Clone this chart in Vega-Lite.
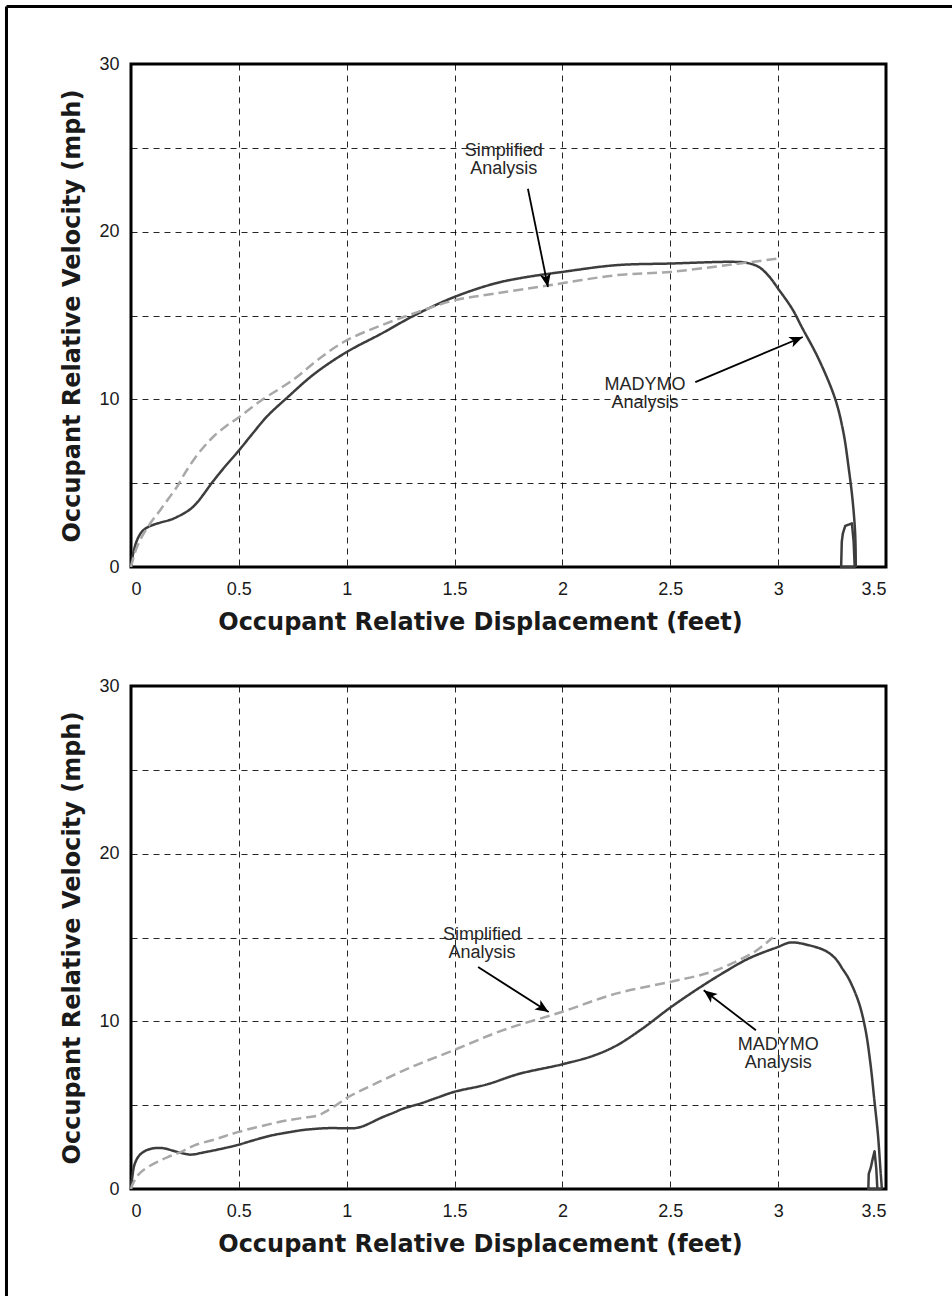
{
  "$schema": "https://vega.github.io/schema/vega-lite/v6.json",
  "padding": {"left": 3, "top": 3, "right": 0, "bottom": 0},
  "background": "white",
  "config": {
    "view": {"stroke": "black", "strokeWidth": 3},
    "axis": {
      "grid": true, "gridColor": "#000000", "gridDash": [6, 5], "gridWidth": 1, "gridOpacity": 0.85,
      "domain": false, "ticks": false,
      "labelFont": "Liberation Sans", "labelFontSize": 18, "labelColor": "#1a1a1a",
      "titleFont": "DejaVu Sans", "titleFontWeight": "bold", "titleFontSize": 24, "titleColor": "#1a1a1a"
    }
  },
  "datasets": {
    "frame": [{"edge": "left"}],
    "curves": [
      {"panel": "top", "series": "MADYMO", "i": 1, "x": 0, "y": 0},
      {"panel": "top", "series": "MADYMO", "i": 2, "x": 0.01, "y": 0.8},
      {"panel": "top", "series": "MADYMO", "i": 3, "x": 0.028, "y": 1.6},
      {"panel": "top", "series": "MADYMO", "i": 4, "x": 0.05, "y": 2.1},
      {"panel": "top", "series": "MADYMO", "i": 5, "x": 0.074, "y": 2.35},
      {"panel": "top", "series": "MADYMO", "i": 6, "x": 0.1, "y": 2.5},
      {"panel": "top", "series": "MADYMO", "i": 7, "x": 0.136, "y": 2.65},
      {"panel": "top", "series": "MADYMO", "i": 8, "x": 0.19, "y": 2.85},
      {"panel": "top", "series": "MADYMO", "i": 9, "x": 0.245, "y": 3.2},
      {"panel": "top", "series": "MADYMO", "i": 10, "x": 0.28, "y": 3.5},
      {"panel": "top", "series": "MADYMO", "i": 11, "x": 0.307, "y": 3.85},
      {"panel": "top", "series": "MADYMO", "i": 12, "x": 0.34, "y": 4.4},
      {"panel": "top", "series": "MADYMO", "i": 13, "x": 0.368, "y": 4.9},
      {"panel": "top", "series": "MADYMO", "i": 14, "x": 0.43, "y": 5.9},
      {"panel": "top", "series": "MADYMO", "i": 15, "x": 0.497, "y": 6.9},
      {"panel": "top", "series": "MADYMO", "i": 16, "x": 0.56, "y": 7.9},
      {"panel": "top", "series": "MADYMO", "i": 17, "x": 0.632, "y": 9.0},
      {"panel": "top", "series": "MADYMO", "i": 18, "x": 0.724, "y": 10.1},
      {"panel": "top", "series": "MADYMO", "i": 19, "x": 0.848, "y": 11.5},
      {"panel": "top", "series": "MADYMO", "i": 20, "x": 0.997, "y": 12.8},
      {"panel": "top", "series": "MADYMO", "i": 21, "x": 1.158, "y": 13.9},
      {"panel": "top", "series": "MADYMO", "i": 22, "x": 1.313, "y": 15.0},
      {"panel": "top", "series": "MADYMO", "i": 23, "x": 1.498, "y": 16.1},
      {"panel": "top", "series": "MADYMO", "i": 24, "x": 1.684, "y": 16.9},
      {"panel": "top", "series": "MADYMO", "i": 25, "x": 1.814, "y": 17.25},
      {"panel": "top", "series": "MADYMO", "i": 26, "x": 2.0, "y": 17.6},
      {"panel": "top", "series": "MADYMO", "i": 27, "x": 2.248, "y": 18.0},
      {"panel": "top", "series": "MADYMO", "i": 28, "x": 2.5, "y": 18.1},
      {"panel": "top", "series": "MADYMO", "i": 29, "x": 2.79, "y": 18.2},
      {"panel": "top", "series": "MADYMO", "i": 30, "x": 2.85, "y": 18.15},
      {"panel": "top", "series": "MADYMO", "i": 31, "x": 2.91, "y": 17.9},
      {"panel": "top", "series": "MADYMO", "i": 32, "x": 2.96, "y": 17.3},
      {"panel": "top", "series": "MADYMO", "i": 33, "x": 3.0, "y": 16.6},
      {"panel": "top", "series": "MADYMO", "i": 34, "x": 3.065, "y": 15.4},
      {"panel": "top", "series": "MADYMO", "i": 35, "x": 3.11, "y": 14.3},
      {"panel": "top", "series": "MADYMO", "i": 36, "x": 3.188, "y": 12.4},
      {"panel": "top", "series": "MADYMO", "i": 37, "x": 3.265, "y": 10.0},
      {"panel": "top", "series": "MADYMO", "i": 38, "x": 3.303, "y": 8.0},
      {"panel": "top", "series": "MADYMO", "i": 39, "x": 3.326, "y": 6.0},
      {"panel": "top", "series": "MADYMO", "i": 40, "x": 3.345, "y": 4.0},
      {"panel": "top", "series": "MADYMO", "i": 41, "x": 3.357, "y": 2.0},
      {"panel": "top", "series": "MADYMO", "i": 42, "x": 3.36, "y": 0.0},
      {"panel": "top", "series": "MADYMO tail", "i": 1, "x": 3.36, "y": 0.0},
      {"panel": "top", "series": "MADYMO tail", "i": 2, "x": 3.292, "y": 0.0},
      {"panel": "top", "series": "MADYMO tail", "i": 3, "x": 3.295, "y": 1.5},
      {"panel": "top", "series": "MADYMO tail", "i": 4, "x": 3.3, "y": 2.0},
      {"panel": "top", "series": "MADYMO tail", "i": 5, "x": 3.311, "y": 2.45},
      {"panel": "top", "series": "MADYMO tail", "i": 6, "x": 3.342, "y": 2.6},
      {"panel": "top", "series": "MADYMO tail", "i": 7, "x": 3.35, "y": 1.5},
      {"panel": "top", "series": "MADYMO tail", "i": 8, "x": 3.355, "y": 0.0},
      {"panel": "top", "series": "Simplified", "i": 1, "x": 0, "y": 0},
      {"panel": "top", "series": "Simplified", "i": 2, "x": 0.01, "y": 0.5},
      {"panel": "top", "series": "Simplified", "i": 3, "x": 0.028, "y": 1.2},
      {"panel": "top", "series": "Simplified", "i": 4, "x": 0.05, "y": 1.8},
      {"panel": "top", "series": "Simplified", "i": 5, "x": 0.074, "y": 2.3},
      {"panel": "top", "series": "Simplified", "i": 6, "x": 0.1, "y": 2.8},
      {"panel": "top", "series": "Simplified", "i": 7, "x": 0.136, "y": 3.4},
      {"panel": "top", "series": "Simplified", "i": 8, "x": 0.175, "y": 4.1},
      {"panel": "top", "series": "Simplified", "i": 9, "x": 0.214, "y": 4.8},
      {"panel": "top", "series": "Simplified", "i": 10, "x": 0.25, "y": 5.6},
      {"panel": "top", "series": "Simplified", "i": 11, "x": 0.291, "y": 6.4},
      {"panel": "top", "series": "Simplified", "i": 12, "x": 0.34, "y": 7.2},
      {"panel": "top", "series": "Simplified", "i": 13, "x": 0.384, "y": 7.8},
      {"panel": "top", "series": "Simplified", "i": 14, "x": 0.44, "y": 8.4},
      {"panel": "top", "series": "Simplified", "i": 15, "x": 0.497, "y": 8.9},
      {"panel": "top", "series": "Simplified", "i": 16, "x": 0.6, "y": 9.9},
      {"panel": "top", "series": "Simplified", "i": 17, "x": 0.755, "y": 11.2},
      {"panel": "top", "series": "Simplified", "i": 18, "x": 0.88, "y": 12.5},
      {"panel": "top", "series": "Simplified", "i": 19, "x": 0.997, "y": 13.5},
      {"panel": "top", "series": "Simplified", "i": 20, "x": 1.158, "y": 14.4},
      {"panel": "top", "series": "Simplified", "i": 21, "x": 1.328, "y": 15.2},
      {"panel": "top", "series": "Simplified", "i": 22, "x": 1.498, "y": 15.9},
      {"panel": "top", "series": "Simplified", "i": 23, "x": 1.684, "y": 16.3},
      {"panel": "top", "series": "Simplified", "i": 24, "x": 1.938, "y": 16.8},
      {"panel": "top", "series": "Simplified", "i": 25, "x": 2.248, "y": 17.4},
      {"panel": "top", "series": "Simplified", "i": 26, "x": 2.5, "y": 17.6},
      {"panel": "top", "series": "Simplified", "i": 27, "x": 2.79, "y": 18.05},
      {"panel": "top", "series": "Simplified", "i": 28, "x": 3.0, "y": 18.4},
      {"panel": "bottom", "series": "MADYMO", "i": 1, "x": 0, "y": 0},
      {"panel": "bottom", "series": "MADYMO", "i": 2, "x": 0.005, "y": 0.6},
      {"panel": "bottom", "series": "MADYMO", "i": 3, "x": 0.015, "y": 1.4},
      {"panel": "bottom", "series": "MADYMO", "i": 4, "x": 0.03, "y": 1.85},
      {"panel": "bottom", "series": "MADYMO", "i": 5, "x": 0.046, "y": 2.1},
      {"panel": "bottom", "series": "MADYMO", "i": 6, "x": 0.07, "y": 2.3},
      {"panel": "bottom", "series": "MADYMO", "i": 7, "x": 0.093, "y": 2.4},
      {"panel": "bottom", "series": "MADYMO", "i": 8, "x": 0.125, "y": 2.45},
      {"panel": "bottom", "series": "MADYMO", "i": 9, "x": 0.155, "y": 2.42},
      {"panel": "bottom", "series": "MADYMO", "i": 10, "x": 0.19, "y": 2.3},
      {"panel": "bottom", "series": "MADYMO", "i": 11, "x": 0.217, "y": 2.2},
      {"panel": "bottom", "series": "MADYMO", "i": 12, "x": 0.25, "y": 2.1},
      {"panel": "bottom", "series": "MADYMO", "i": 13, "x": 0.279, "y": 2.05},
      {"panel": "bottom", "series": "MADYMO", "i": 14, "x": 0.34, "y": 2.19},
      {"panel": "bottom", "series": "MADYMO", "i": 15, "x": 0.42, "y": 2.4},
      {"panel": "bottom", "series": "MADYMO", "i": 16, "x": 0.495, "y": 2.63},
      {"panel": "bottom", "series": "MADYMO", "i": 17, "x": 0.58, "y": 2.95},
      {"panel": "bottom", "series": "MADYMO", "i": 18, "x": 0.65, "y": 3.19},
      {"panel": "bottom", "series": "MADYMO", "i": 19, "x": 0.73, "y": 3.38},
      {"panel": "bottom", "series": "MADYMO", "i": 20, "x": 0.805, "y": 3.53},
      {"panel": "bottom", "series": "MADYMO", "i": 21, "x": 0.913, "y": 3.63},
      {"panel": "bottom", "series": "MADYMO", "i": 22, "x": 1.037, "y": 3.63},
      {"panel": "bottom", "series": "MADYMO", "i": 23, "x": 1.07, "y": 3.72},
      {"panel": "bottom", "series": "MADYMO", "i": 24, "x": 1.1, "y": 3.88},
      {"panel": "bottom", "series": "MADYMO", "i": 25, "x": 1.16, "y": 4.25},
      {"panel": "bottom", "series": "MADYMO", "i": 26, "x": 1.223, "y": 4.58},
      {"panel": "bottom", "series": "MADYMO", "i": 27, "x": 1.259, "y": 4.78},
      {"panel": "bottom", "series": "MADYMO", "i": 28, "x": 1.347, "y": 5.12},
      {"panel": "bottom", "series": "MADYMO", "i": 29, "x": 1.42, "y": 5.45},
      {"panel": "bottom", "series": "MADYMO", "i": 30, "x": 1.5, "y": 5.8},
      {"panel": "bottom", "series": "MADYMO", "i": 31, "x": 1.645, "y": 6.22},
      {"panel": "bottom", "series": "MADYMO", "i": 32, "x": 1.8, "y": 6.87},
      {"panel": "bottom", "series": "MADYMO", "i": 33, "x": 1.997, "y": 7.43},
      {"panel": "bottom", "series": "MADYMO", "i": 34, "x": 2.139, "y": 7.93},
      {"panel": "bottom", "series": "MADYMO", "i": 35, "x": 2.247, "y": 8.53},
      {"panel": "bottom", "series": "MADYMO", "i": 36, "x": 2.37, "y": 9.56},
      {"panel": "bottom", "series": "MADYMO", "i": 37, "x": 2.498, "y": 10.8},
      {"panel": "bottom", "series": "MADYMO", "i": 38, "x": 2.617, "y": 11.85},
      {"panel": "bottom", "series": "MADYMO", "i": 39, "x": 2.74, "y": 12.85},
      {"panel": "bottom", "series": "MADYMO", "i": 40, "x": 2.864, "y": 13.75},
      {"panel": "bottom", "series": "MADYMO", "i": 41, "x": 3.0, "y": 14.44},
      {"panel": "bottom", "series": "MADYMO", "i": 42, "x": 3.057, "y": 14.7},
      {"panel": "bottom", "series": "MADYMO", "i": 43, "x": 3.142, "y": 14.54},
      {"panel": "bottom", "series": "MADYMO", "i": 44, "x": 3.22, "y": 14.2},
      {"panel": "bottom", "series": "MADYMO", "i": 45, "x": 3.265, "y": 13.75},
      {"panel": "bottom", "series": "MADYMO", "i": 46, "x": 3.3, "y": 13.1},
      {"panel": "bottom", "series": "MADYMO", "i": 47, "x": 3.327, "y": 12.55},
      {"panel": "bottom", "series": "MADYMO", "i": 48, "x": 3.373, "y": 11.16},
      {"panel": "bottom", "series": "MADYMO", "i": 49, "x": 3.404, "y": 9.56},
      {"panel": "bottom", "series": "MADYMO", "i": 50, "x": 3.427, "y": 7.57},
      {"panel": "bottom", "series": "MADYMO", "i": 51, "x": 3.447, "y": 5.18},
      {"panel": "bottom", "series": "MADYMO", "i": 52, "x": 3.463, "y": 3.19},
      {"panel": "bottom", "series": "MADYMO", "i": 53, "x": 3.474, "y": 1.2},
      {"panel": "bottom", "series": "MADYMO", "i": 54, "x": 3.481, "y": 0.0},
      {"panel": "bottom", "series": "MADYMO tail", "i": 1, "x": 3.481, "y": 0.0},
      {"panel": "bottom", "series": "MADYMO tail", "i": 2, "x": 3.418, "y": 0.0},
      {"panel": "bottom", "series": "MADYMO tail", "i": 3, "x": 3.42, "y": 0.9},
      {"panel": "bottom", "series": "MADYMO tail", "i": 4, "x": 3.43, "y": 1.3},
      {"panel": "bottom", "series": "MADYMO tail", "i": 5, "x": 3.44, "y": 1.9},
      {"panel": "bottom", "series": "MADYMO tail", "i": 6, "x": 3.447, "y": 2.25},
      {"panel": "bottom", "series": "MADYMO tail", "i": 7, "x": 3.455, "y": 1.2},
      {"panel": "bottom", "series": "MADYMO tail", "i": 8, "x": 3.46, "y": 0.0},
      {"panel": "bottom", "series": "Simplified", "i": 1, "x": 0, "y": 0},
      {"panel": "bottom", "series": "Simplified", "i": 2, "x": 0.01, "y": 0.35},
      {"panel": "bottom", "series": "Simplified", "i": 3, "x": 0.031, "y": 0.8},
      {"panel": "bottom", "series": "Simplified", "i": 4, "x": 0.05, "y": 1.05},
      {"panel": "bottom", "series": "Simplified", "i": 5, "x": 0.077, "y": 1.3},
      {"panel": "bottom", "series": "Simplified", "i": 6, "x": 0.12, "y": 1.6},
      {"panel": "bottom", "series": "Simplified", "i": 7, "x": 0.17, "y": 1.9},
      {"panel": "bottom", "series": "Simplified", "i": 8, "x": 0.23, "y": 2.2},
      {"panel": "bottom", "series": "Simplified", "i": 9, "x": 0.294, "y": 2.6},
      {"panel": "bottom", "series": "Simplified", "i": 10, "x": 0.4, "y": 3.0},
      {"panel": "bottom", "series": "Simplified", "i": 11, "x": 0.495, "y": 3.39},
      {"panel": "bottom", "series": "Simplified", "i": 12, "x": 0.681, "y": 3.98},
      {"panel": "bottom", "series": "Simplified", "i": 13, "x": 0.8, "y": 4.25},
      {"panel": "bottom", "series": "Simplified", "i": 14, "x": 0.867, "y": 4.38},
      {"panel": "bottom", "series": "Simplified", "i": 15, "x": 0.9, "y": 4.6},
      {"panel": "bottom", "series": "Simplified", "i": 16, "x": 0.944, "y": 4.94},
      {"panel": "bottom", "series": "Simplified", "i": 17, "x": 1.006, "y": 5.48},
      {"panel": "bottom", "series": "Simplified", "i": 18, "x": 1.13, "y": 6.27},
      {"panel": "bottom", "series": "Simplified", "i": 19, "x": 1.3, "y": 7.27},
      {"panel": "bottom", "series": "Simplified", "i": 20, "x": 1.5, "y": 8.3},
      {"panel": "bottom", "series": "Simplified", "i": 21, "x": 1.722, "y": 9.46},
      {"panel": "bottom", "series": "Simplified", "i": 22, "x": 1.997, "y": 10.56},
      {"panel": "bottom", "series": "Simplified", "i": 23, "x": 2.247, "y": 11.65},
      {"panel": "bottom", "series": "Simplified", "i": 24, "x": 2.498, "y": 12.35},
      {"panel": "bottom", "series": "Simplified", "i": 25, "x": 2.679, "y": 12.9},
      {"panel": "bottom", "series": "Simplified", "i": 26, "x": 2.802, "y": 13.55},
      {"panel": "bottom", "series": "Simplified", "i": 27, "x": 2.895, "y": 14.18},
      {"panel": "bottom", "series": "Simplified", "i": 28, "x": 2.975, "y": 15.0}
    ],
    "labels": [
      {"panel": "top", "txt": "Simplified\nAnalysis", "x": 1.728, "y": 24.52},
      {"panel": "top", "txt": "MADYMO\nAnalysis", "x": 2.383, "y": 10.58},
      {"panel": "bottom", "txt": "Simplified\nAnalysis", "x": 1.627, "y": 14.84},
      {"panel": "bottom", "txt": "MADYMO\nAnalysis", "x": 3.0, "y": 8.31}
    ],
    "arrows": [
      {"panel": "top", "id": "top_simplified", "x": 1.84, "y": 22.56, "x2": 1.933, "y2": 16.7},
      {"panel": "top", "id": "top_madymo", "x": 2.616, "y": 11.03, "x2": 3.114, "y2": 13.72},
      {"panel": "bottom", "id": "bottom_simplified", "x": 1.609, "y": 13.24, "x2": 1.936, "y2": 10.56},
      {"panel": "bottom", "id": "bottom_madymo", "x": 2.897, "y": 9.47, "x2": 2.655, "y2": 11.85}
    ]
  },
  "spacing": 119,
  "bounds": "flush",
  "vconcat": [
    {
      "width": 755,
      "height": 503,
      "layer": [
        {
          "data": {"name": "frame"},
          "mark": {"type": "rule", "color": "black", "strokeWidth": 3},
          "encoding": {
            "x": {"datum": -0.5772, "type": "quantitative"},
            "y": {"datum": 33.43, "type": "quantitative"},
            "y2": {"datum": -43.54}
          }
        },
        {
          "data": {"name": "frame"},
          "mark": {"type": "rule", "color": "black", "strokeWidth": 3},
          "encoding": {
            "y": {"datum": 33.43, "type": "quantitative"},
            "x": {"datum": -0.5772, "type": "quantitative"},
            "x2": {"datum": 3.8107}
          }
        },
        {
          "data": {"name": "curves"},
          "transform": [{"filter": "datum.panel === 'top' && datum.series !== 'MADYMO tail'"}],
          "mark": {"type": "line", "strokeWidth": 2.5, "strokeJoin": "round", "interpolate": "catmull-rom"},
          "encoding": {
            "x": {"field": "x", "type": "quantitative", "scale": {"domain": [0, 3.5], "nice": false, "zero": false},
                  "axis": {"values": [0, 0.5, 1, 1.5, 2, 2.5, 3, 3.5], "format": "~g", "labelPadding": 13, "titlePadding": 12, "titleX": 349},
                  "title": "Occupant Relative Displacement (feet)"},
            "y": {"field": "y", "type": "quantitative", "scale": {"domain": [0, 30], "nice": false, "zero": false},
                  "axis": {"values": [0, 5, 10, 15, 20, 25, 30], "labelExpr": "datum.value % 10 === 0 ? datum.label : ''", "labelPadding": 12, "titlePadding": 14},
                  "title": "Occupant Relative Velocity (mph)"},
            "color": {"field": "series", "type": "nominal", "scale": {"domain": ["MADYMO", "MADYMO tail", "Simplified"], "range": ["#3d3d3d", "#3d3d3d", "#a8a8a8"]}, "legend": null},
            "strokeDash": {"field": "series", "type": "nominal", "scale": {"domain": ["MADYMO", "MADYMO tail", "Simplified"], "range": [[1, 0], [1, 0], [10, 5]]}, "legend": null},
            "order": {"field": "i", "type": "quantitative"}
          }
        },
        {
          "data": {"name": "curves"},
          "transform": [{"filter": "datum.panel === 'top' && datum.series === 'MADYMO tail'"}],
          "mark": {"type": "line", "strokeWidth": 2.5, "strokeJoin": "round", "interpolate": "linear"},
          "encoding": {
            "x": {"field": "x", "type": "quantitative"},
            "y": {"field": "y", "type": "quantitative"},
            "color": {"field": "series", "type": "nominal", "legend": null},
            "strokeDash": {"field": "series", "type": "nominal", "legend": null},
            "order": {"field": "i", "type": "quantitative"}
          }
        },
        {
          "data": {"name": "arrows"},
          "transform": [{"filter": "datum.panel === 'top'"}],
          "mark": {"type": "rule", "color": "black", "strokeWidth": 1.8},
          "encoding": {
            "x": {"field": "x", "type": "quantitative"},
            "y": {"field": "y", "type": "quantitative"},
            "x2": {"field": "x2"},
            "y2": {"field": "y2"}
          }
        },
        {
          "data": {"name": "arrows"},
          "transform": [{"filter": "datum.id === 'top_simplified'"}],
          "mark": {"type": "point", "shape": "M0,0 L0.75,1.8 L0,1.35 L-0.75,1.8 Z", "filled": true, "color": "black", "opacity": 1, "size": 220, "angle": 168.5},
          "encoding": {"x": {"field": "x2", "type": "quantitative"}, "y": {"field": "y2", "type": "quantitative"}}
        },
        {
          "data": {"name": "arrows"},
          "transform": [{"filter": "datum.id === 'top_madymo'"}],
          "mark": {"type": "point", "shape": "M0,0 L0.75,1.8 L0,1.35 L-0.75,1.8 Z", "filled": true, "color": "black", "opacity": 1, "size": 220, "angle": 67.3},
          "encoding": {"x": {"field": "x2", "type": "quantitative"}, "y": {"field": "y2", "type": "quantitative"}}
        },
        {
          "data": {"name": "labels"},
          "transform": [{"filter": "datum.panel === 'top'"}],
          "mark": {"type": "text", "font": "Liberation Sans", "fontSize": 18, "align": "center", "baseline": "alphabetic", "lineBreak": "\n", "lineHeight": 18, "fill": "#262626"},
          "encoding": {"x": {"field": "x", "type": "quantitative"}, "y": {"field": "y", "type": "quantitative"}, "text": {"field": "txt"}}
        }
      ]
    },
    {
      "width": 755,
      "height": 503,
      "layer": [
        {
          "data": {"name": "curves"},
          "transform": [{"filter": "datum.panel === 'bottom' && datum.series !== 'MADYMO tail'"}],
          "mark": {"type": "line", "strokeWidth": 2.5, "strokeJoin": "round", "interpolate": "catmull-rom"},
          "encoding": {
            "x": {"field": "x", "type": "quantitative", "scale": {"domain": [0, 3.5], "nice": false, "zero": false},
                  "axis": {"values": [0, 0.5, 1, 1.5, 2, 2.5, 3, 3.5], "format": "~g", "labelPadding": 13, "titlePadding": 12, "titleX": 349},
                  "title": "Occupant Relative Displacement (feet)"},
            "y": {"field": "y", "type": "quantitative", "scale": {"domain": [0, 30], "nice": false, "zero": false},
                  "axis": {"values": [0, 5, 10, 15, 20, 25, 30], "labelExpr": "datum.value % 10 === 0 ? datum.label : ''", "labelPadding": 12, "titlePadding": 14},
                  "title": "Occupant Relative Velocity (mph)"},
            "color": {"field": "series", "type": "nominal", "scale": {"domain": ["MADYMO", "MADYMO tail", "Simplified"], "range": ["#3d3d3d", "#3d3d3d", "#a8a8a8"]}, "legend": null},
            "strokeDash": {"field": "series", "type": "nominal", "scale": {"domain": ["MADYMO", "MADYMO tail", "Simplified"], "range": [[1, 0], [1, 0], [10, 5]]}, "legend": null},
            "order": {"field": "i", "type": "quantitative"}
          }
        },
        {
          "data": {"name": "curves"},
          "transform": [{"filter": "datum.panel === 'bottom' && datum.series === 'MADYMO tail'"}],
          "mark": {"type": "line", "strokeWidth": 2.5, "strokeJoin": "round", "interpolate": "linear"},
          "encoding": {
            "x": {"field": "x", "type": "quantitative"},
            "y": {"field": "y", "type": "quantitative"},
            "color": {"field": "series", "type": "nominal", "legend": null},
            "strokeDash": {"field": "series", "type": "nominal", "legend": null},
            "order": {"field": "i", "type": "quantitative"}
          }
        },
        {
          "data": {"name": "arrows"},
          "transform": [{"filter": "datum.panel === 'bottom'"}],
          "mark": {"type": "rule", "color": "black", "strokeWidth": 1.8},
          "encoding": {
            "x": {"field": "x", "type": "quantitative"},
            "y": {"field": "y", "type": "quantitative"},
            "x2": {"field": "x2"},
            "y2": {"field": "y2"}
          }
        },
        {
          "data": {"name": "arrows"},
          "transform": [{"filter": "datum.id === 'bottom_simplified'"}],
          "mark": {"type": "point", "shape": "M0,0 L0.75,1.8 L0,1.35 L-0.75,1.8 Z", "filled": true, "color": "black", "opacity": 1, "size": 220, "angle": 122.5},
          "encoding": {"x": {"field": "x2", "type": "quantitative"}, "y": {"field": "y2", "type": "quantitative"}}
        },
        {
          "data": {"name": "arrows"},
          "transform": [{"filter": "datum.id === 'bottom_madymo'"}],
          "mark": {"type": "point", "shape": "M0,0 L0.75,1.8 L0,1.35 L-0.75,1.8 Z", "filled": true, "color": "black", "opacity": 1, "size": 220, "angle": 307.4},
          "encoding": {"x": {"field": "x2", "type": "quantitative"}, "y": {"field": "y2", "type": "quantitative"}}
        },
        {
          "data": {"name": "labels"},
          "transform": [{"filter": "datum.panel === 'bottom'"}],
          "mark": {"type": "text", "font": "Liberation Sans", "fontSize": 18, "align": "center", "baseline": "alphabetic", "lineBreak": "\n", "lineHeight": 18, "fill": "#262626"},
          "encoding": {"x": {"field": "x", "type": "quantitative"}, "y": {"field": "y", "type": "quantitative"}, "text": {"field": "txt"}}
        }
      ]
    }
  ]
}
